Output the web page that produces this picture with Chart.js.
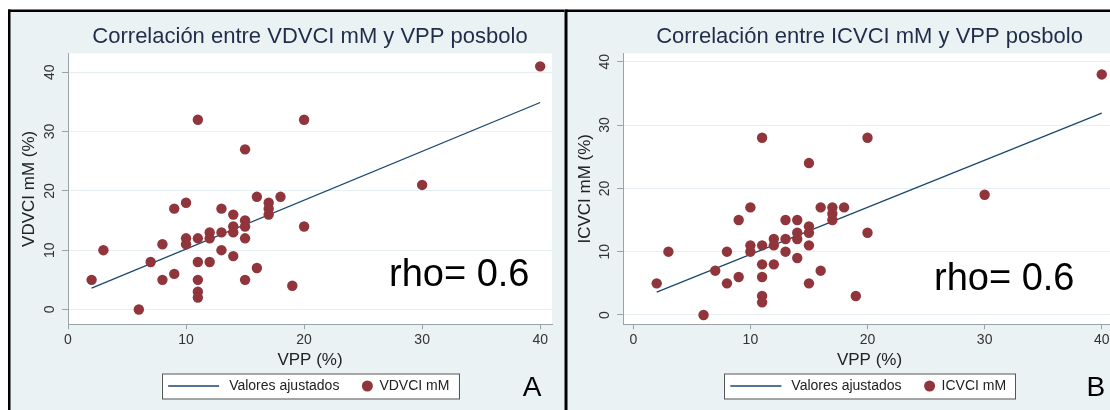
<!DOCTYPE html>
<html>
<head>
<meta charset="utf-8">
<script src="https://cdn.jsdelivr.net/npm/chart.js@4.4.1/dist/chart.umd.min.js"></script>
<style>
  html, body { margin: 0; padding: 0; background: #fff; width: 1110px; height: 410px; overflow: hidden; }
  #chartA { position: absolute; left: 0; top: 0; }
  #chartB { position: absolute; left: 564px; top: 0; }
</style>
</head>
<body>
<canvas id="chartA" width="566" height="410"></canvas>
<canvas id="chartB" width="562" height="410"></canvas>
<script>
// Panel A: VDVCI mM vs VPP
const vppA   = [2, 3, 6, 7, 8, 8, 9, 9, 10, 10, 10, 11, 11, 11, 11, 11, 11, 12, 12, 12, 13, 13, 13, 14, 14, 14, 14, 15, 15, 15, 15, 15, 16, 16, 17, 17, 17, 18, 19, 20, 20, 30, 40];
const vdvciA = [5, 10, 0, 8, 11, 5, 17, 6, 18, 12, 11, 32, 12, 8, 5, 3, 2, 13, 12, 8, 17, 13, 10, 16, 14, 13, 9, 27, 15, 14, 12, 5, 19, 7, 18, 17, 16, 19, 4, 32, 14, 21, 41];

// Panel B: ICVCI mM vs VPP
const vppB   = [2, 3, 6, 7, 8, 8, 9, 9, 10, 10, 10, 11, 11, 11, 11, 11, 11, 12, 12, 12, 13, 13, 13, 14, 14, 14, 14, 15, 15, 15, 15, 15, 16, 16, 17, 17, 17, 18, 19, 20, 20, 30, 40];
const icvciB = [5, 10, 0, 7, 10, 5, 15, 6, 17, 11, 10, 28, 11, 8, 6, 3, 2, 12, 11, 8, 15, 12, 10, 15, 13, 12, 9, 24, 14, 13, 11, 5, 17, 7, 17, 16, 15, 17, 3, 28, 13, 19, 38];

// fitted line ("Valores ajustados") end points
const fitVpp   = [2, 40];
const fitVdvci = [3.6, 34.9];
const fitIcvci = [3.6, 31.9];

const axisTicks = [0, 10, 20, 30, 40];

// Stata s2color look
const PANEL_BG = '#eaf2f3';
const GRID = '#e6eff1';
const AXIS = '#9aa3a8';
const MAROON = '#90353b';
const NAVY = '#1a476f';
const FONT = '"Liberation Sans", Arial, sans-serif';

Chart.defaults.font.family = FONT;

const panelPlugin = {
  id: 'panel',
  beforeDraw(chart, args, o) {
    const { ctx, width, height, chartArea: a } = chart;
    ctx.save();
    ctx.fillStyle = '#fff';
    ctx.fillRect(0, 0, width, height);
    ctx.fillStyle = PANEL_BG;
    ctx.fillRect(o.borderX, 11, width - o.borderX, height - 11);
    // black frame (left + top)
    ctx.fillStyle = '#000';
    ctx.fillRect(o.borderX, 9.5, o.borderW, height - 9.5);
    ctx.fillRect(o.borderX, 9.5, width - o.borderX, 2.5);
    // plot region
    ctx.fillStyle = '#fff';
    ctx.fillRect(a.left, a.top, a.width, a.height);
    ctx.restore();
  },
  afterDraw(chart, args, o) {
    const { ctx, chartArea: a } = chart;
    const pts = chart.data.datasets[0];
    const fit = chart.data.datasets[1];
    ctx.save();

    // legend box
    ctx.font = '14px ' + FONT;
    const w1 = ctx.measureText(fit.label).width;
    const w2 = ctx.measureText(pts.label).width;
    const boxW = 6.5 + 51 + 10 + w1 + 22.5 + 11 + 6.5 + w2 + 9;
    const bx = (a.left + a.right) / 2 - boxW / 2;
    const by = 373.5, bh = 25, cy = by + bh / 2;
    ctx.fillStyle = '#fff';
    ctx.fillRect(bx, by, boxW, bh);
    ctx.strokeStyle = '#555';
    ctx.lineWidth = 1;
    ctx.strokeRect(Math.round(bx) + 0.5, by + 0.5, Math.round(boxW), bh);
    let x = bx + 6.5;
    ctx.strokeStyle = fit.borderColor;
    ctx.lineWidth = fit.borderWidth;
    ctx.beginPath();
    ctx.moveTo(x, cy); ctx.lineTo(x + 51, cy); ctx.stroke();
    x += 61;
    ctx.fillStyle = '#222';
    ctx.textBaseline = 'middle';
    ctx.textAlign = 'left';
    ctx.fillText(fit.label, x, cy);
    x += w1 + 22.5 + 5.5;
    ctx.fillStyle = pts.backgroundColor;
    ctx.beginPath(); ctx.arc(x, cy, 5.5, 0, Math.PI * 2); ctx.fill();
    x += 5.5 + 6.5;
    ctx.fillStyle = '#222';
    ctx.fillText(pts.label, x, cy);

    // rho annotation
    ctx.fillStyle = '#000';
    ctx.textBaseline = 'alphabetic';
    ctx.font = '38px ' + FONT;
    ctx.fillText('rho= 0.6', o.rhoX, o.rhoY);

    // panel letter
    ctx.font = '28px ' + FONT;
    ctx.textAlign = 'center';
    ctx.fillText(o.letter, a.right - 20, 395.5);
    ctx.restore();
  }
};

function buildPanel(id, p) {
  const fixTicks = scale => { scale.ticks = axisTicks.map(v => ({ value: v })); };
  return new Chart(document.getElementById(id), {
    type: 'scatter',
    data: {
      datasets: [
        {
          label: p.seriesLabel,
          data: p.xs.map((v, i) => ({ x: v, y: p.ys[i] })),
          backgroundColor: MAROON,
          borderWidth: 0,
          pointRadius: 5.2,
          pointHoverRadius: 5.2
        },
        {
          label: 'Valores ajustados',
          data: fitVpp.map((v, i) => ({ x: v, y: p.fit[i] })),
          showLine: true,
          borderColor: NAVY,
          borderWidth: 1.3,
          pointRadius: 0
        }
      ]
    },
    options: {
      responsive: false,
      animation: false,
      events: [],
      layout: { padding: { left: p.padLeft, right: p.padRight, top: 11, bottom: 35.7 } },
      plugins: {
        legend: { display: false },
        tooltip: { enabled: false },
        title: {
          display: true,
          fullSize: false,
          text: p.title,
          color: '#1f2d4a',
          font: { size: 22, weight: 'normal' },
          padding: { top: 13.2, bottom: 2.7 }
        },
        panel: { borderX: p.borderX, borderW: p.borderW, letter: p.letter, rhoX: p.rhoX, rhoY: p.rhoY }
      },
      scales: {
        x: {
          type: 'linear',
          min: p.xMin, max: p.xMax,
          afterBuildTicks: fixTicks,
          afterFit: s => { s.height = 50; },
          grid: { drawOnChartArea: false, tickLength: 5, tickColor: AXIS },
          border: { color: AXIS },
          ticks: { color: '#333', font: { size: 14 }, padding: 2.6, maxRotation: 0 },
          title: { display: true, text: 'VPP (%)', color: '#222', font: { size: 17 }, padding: { bottom: 4 } }
        },
        y: {
          type: 'linear',
          min: p.yMin, max: p.yMax,
          afterBuildTicks: fixTicks,
          afterFit: s => { s.width = p.yWidth; },
          grid: { color: GRID, tickLength: 6, tickColor: AXIS },
          border: { color: AXIS },
          ticks: { color: '#333', font: { size: 14 }, padding: 4.2, minRotation: 90, maxRotation: 90, crossAlign: 'center' },
          title: { display: true, text: p.yTitle, color: '#222', font: { size: 17 }, padding: { top: p.yTitlePad } }
        }
      }
    },
    plugins: [panelPlugin]
  });
}

buildPanel('chartA', {
  title: 'Correlación entre VDVCI mM y VPP posbolo',
  yTitle: 'VDVCI mM (%)',
  seriesLabel: 'VDVCI mM',
  xs: vppA, ys: vdvciA, fit: fitVdvci,
  xMin: 0, xMax: 41.0, yMin: -2.5, yMax: 43.2,
  padLeft: 10, padRight: 14, yWidth: 58, yTitlePad: 8.8,
  borderX: 8, borderW: 2.5,
  letter: 'A', rhoX: 389, rhoY: 286
});

buildPanel('chartB', {
  title: 'Correlación entre ICVCI mM y VPP posbolo',
  yTitle: 'ICVCI mM (%)',
  seriesLabel: 'ICVCI mM',
  xs: vppB, ys: icvciB, fit: fitIcvci,
  xMin: -0.86, xMax: 41.2, yMin: -1.47, yMax: 41.34,
  padLeft: 4, padRight: 10.2, yWidth: 55.2, yTitlePad: 7.1,
  borderX: 0.5, borderW: 3,
  letter: 'B', rhoX: 370, rhoY: 290
});
</script>
</body>
</html>
